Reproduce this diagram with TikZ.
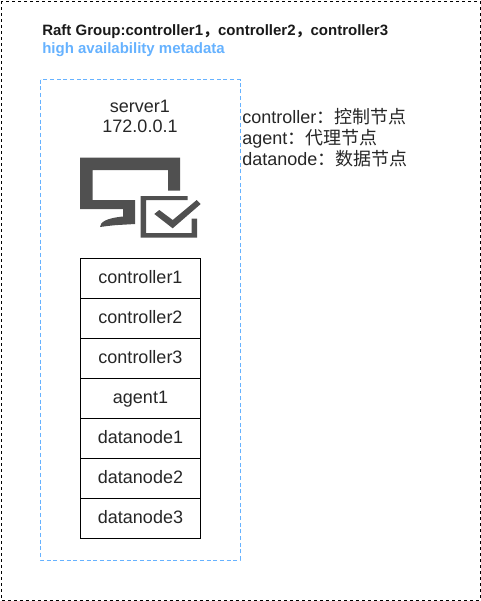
\documentclass[tikz,border=0pt]{standalone}
\usepackage{fontspec}
\setmainfont{Liberation Sans}
\newfontfamily\cjk{Noto Sans CJK SC}
\usepackage{color}
\definecolor{haBlue}{HTML}{66B2FF}
\definecolor{iconGrey}{HTML}{505050}
\tikzset{
	roleBox/.style={draw,line width=0.75pt,minimum width=90pt,minimum height=30pt,inner sep=0pt,text height=9.5pt,text depth=1.5pt,font=\fontsize{13.5}{16}\selectfont,text=black!85},
	plainText/.style={inner sep=0pt,text height=9.5pt,text depth=1.5pt,font=\fontsize{13.5}{16}\selectfont,text=black!85},
	titleText/.style={inner sep=0pt,anchor=west,font=\fontsize{11.25}{13}\selectfont\bfseries}
}
\begin{document}
\begin{tikzpicture}[x=0.75pt,y=-0.75pt]
	\useasboundingbox (0,0) rectangle (481,601);
	\draw[line width=0.75pt,dash pattern=on 2.25pt off 2.25pt] (1,1) rectangle (480,600);
	\draw[haBlue,line width=0.75pt,dash pattern=on 3pt off 2pt] (40.5,79.5) rectangle (240,560);
	\node[titleText,text=black!90] (title) at (42,32) {Raft Group:controller1{\cjk，}controller2{\cjk，}controller3};
	\node[titleText,text=haBlue] (subtitle) at (42,50) {high availability metadata};
	\node[plainText] (server) at (140,107) {server1};
	\node[plainText] (address) at (140,127) {172.0.0.1};
	\node[plainText,anchor=west] (legendA) at (242,118) {controller{\cjk：控制节点}};
	\node[plainText,anchor=west] (legendB) at (242,139) {agent{\cjk：代理节点}};
	\node[plainText,anchor=west] (legendC) at (242,160) {datanode{\cjk：数据节点}};
	% icon
	\fill[iconGrey] (80,157.5) -- (180,157.5) -- (180,190.5) -- (168,190.5) -- (168,170) -- (92.7,170) -- (92.7,200) -- (135,200) -- (135,224) -- (118,225) .. controls (110,225.5) and (104,226.5) .. (100,227) .. controls (100,222) and (107,218) .. (123,216.5) -- (123,209) -- (80,209) -- cycle;
	\fill[iconGrey] (140.7,196) -- (187.7,196) -- (187.7,200) -- (146,200) -- (146,233) -- (191.7,233) -- (191.7,218.7) -- (197,218.7) -- (197,237.7) -- (140.7,237.7) -- cycle;
	\fill[iconGrey] (154.3,214) -- (159.3,210) -- (172.7,220) -- (196.7,200) -- (200.7,204) -- (172.7,228.3) -- cycle;
	% stack
	\node[roleBox] (controller1) at (140.5,278) {controller1};
	\node[roleBox] (controller2) at (140.5,318) {controller2};
	\node[roleBox] (controller3) at (140.5,358) {controller3};
	\node[roleBox] (agent1) at (140.5,398) {agent1};
	\node[roleBox] (datanode1) at (140.5,438) {datanode1};
	\node[roleBox] (datanode2) at (140.5,478) {datanode2};
	\node[roleBox] (datanode3) at (140.5,518) {datanode3};
\end{tikzpicture}
\end{document}
